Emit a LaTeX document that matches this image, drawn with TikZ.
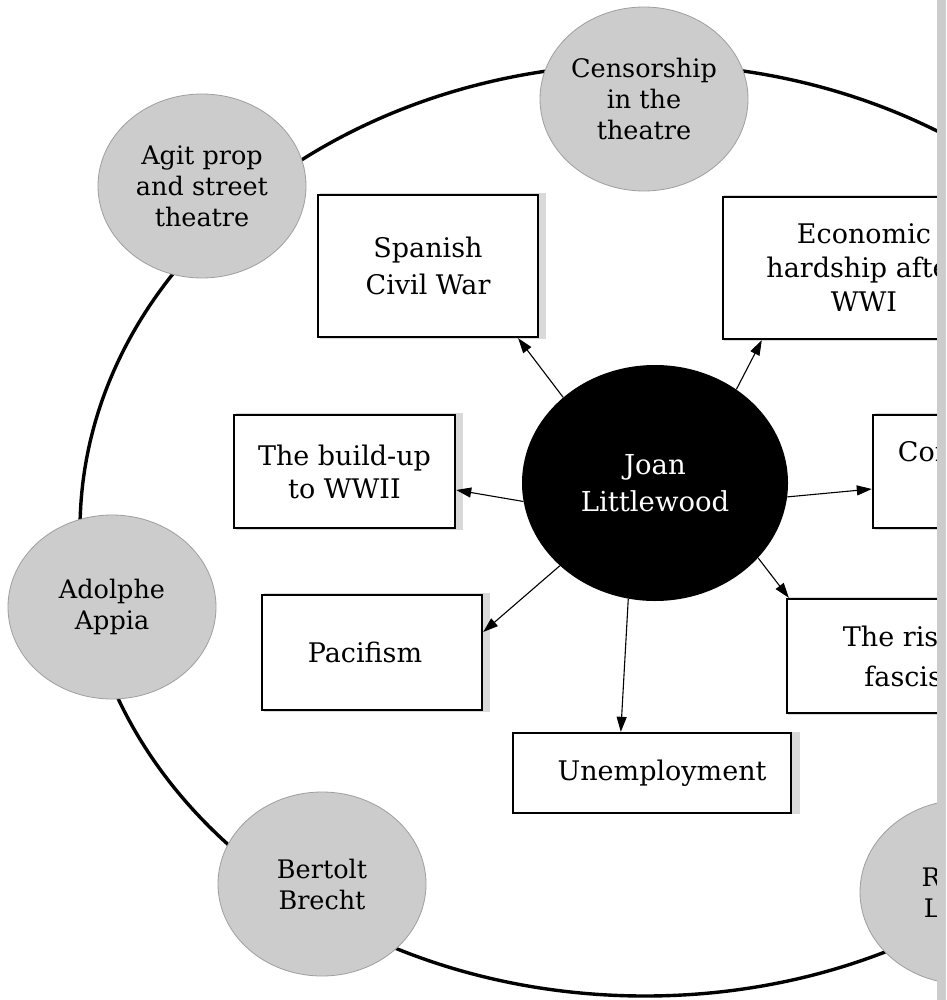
\documentclass[tikz,border=0pt]{standalone}
\usepackage{fontspec}
\setmainfont{DejaVu Serif}
\usetikzlibrary{arrows.meta,shapes.geometric,shadows}
\begin{document}
\begin{tikzpicture}[x=1pt,y=-1pt,
  boxnode/.style={draw, line width=2.4pt, fill=white, rectangle, inner sep=0pt, align=center,
    font=\fontsize{27}{37}\selectfont,
    general shadow={fill=gray!30, shadow xshift=5pt, shadow scale=1.03}},
  topic/.style={ellipse, draw=gray!75, line width=0.8pt, fill=gray!40, inner sep=0pt,
    minimum width=208pt, minimum height=184pt, align=center,
    font=\fontsize{25.5}{31}\selectfont},
  centre/.style={ellipse, fill=black, text=white, inner sep=0pt, minimum width=266pt,
    minimum height=236pt, align=center, font=\fontsize{27.5}{37}\selectfont},
  link/.style={line width=1.1pt, -{Triangle[length=15pt,width=10pt]}},
  ring/.style={line width=3.4pt}
]
\useasboundingbox (0,0) rectangle (946,1000);
\fill[white] (0,0) rectangle (946,1000);
\begin{scope}
\clip (0,0) rectangle (937,1000);
\draw[ring] (645,530) ellipse [x radius=565, y radius=466];

\node[topic] (c1) at (644,99) {Censorship\\in the\\theatre};
\node[topic] (c2) at (202,186) {Agit prop\\and street\\theatre};
\node[topic] (c3) at (112,607) {Adolphe\\Appia};
\node[topic] (c4) at (322,884) {Bertolt\\Brecht};
\node[topic] (c5) at (964,892) {Rudolf\\Laban};

\node[boxnode, minimum width=220pt, minimum height=142pt] (b1) at (428,266) {Spanish\\Civil War};
\node[boxnode, minimum width=282pt, minimum height=142pt, font=\fontsize{27}{34}\selectfont] (b2) at (864,268) {Economic\\hardship after\\WWI};
\node[boxnode, minimum width=221pt, minimum height=113pt, font=\fontsize{27}{33}\selectfont] (b3) at (344.5,471.5) {The build-up\\to WWII};
\node[boxnode, minimum width=206pt, minimum height=113pt, font=\fontsize{27}{34}\selectfont] (b4) at (976,471.5) {Communist\\Party};
\node[boxnode, minimum width=220pt, minimum height=115pt] (b5) at (372,652.5) {Pacifism\hspace*{14pt}};
\node[boxnode, minimum width=258pt, minimum height=114pt, font=\fontsize{27}{40}\selectfont] (b6) at (916,656) {The rise of\\fascism};
\node[boxnode, minimum width=278pt, minimum height=80pt] (b7) at (652,773) {\hspace*{20pt}Unemployment};

\node[centre] (jl) at (655,483) {Joan\\Littlewood};

\draw[link] (jl.137) -- ([xshift=-21pt]b1.south east);
\draw[link] (jl.49) -- ([xshift=40pt]b2.south west);
\draw[link] (jl.-6) -- ([yshift=-17.5pt]b4.west);
\draw[link] (jl.188) -- ([yshift=-18.5pt]b3.east);
\draw[link] (jl.221.5) -- ([yshift=20.5pt]b5.east);
\draw[link] (jl.-36) -- ([xshift=3pt]b6.north west);
\draw[link] (jl.-103) -- ([xshift=109pt]b7.north west);
\end{scope}
\fill[gray!40] (937,0) rectangle (946,1000);
\end{tikzpicture}
\end{document}
